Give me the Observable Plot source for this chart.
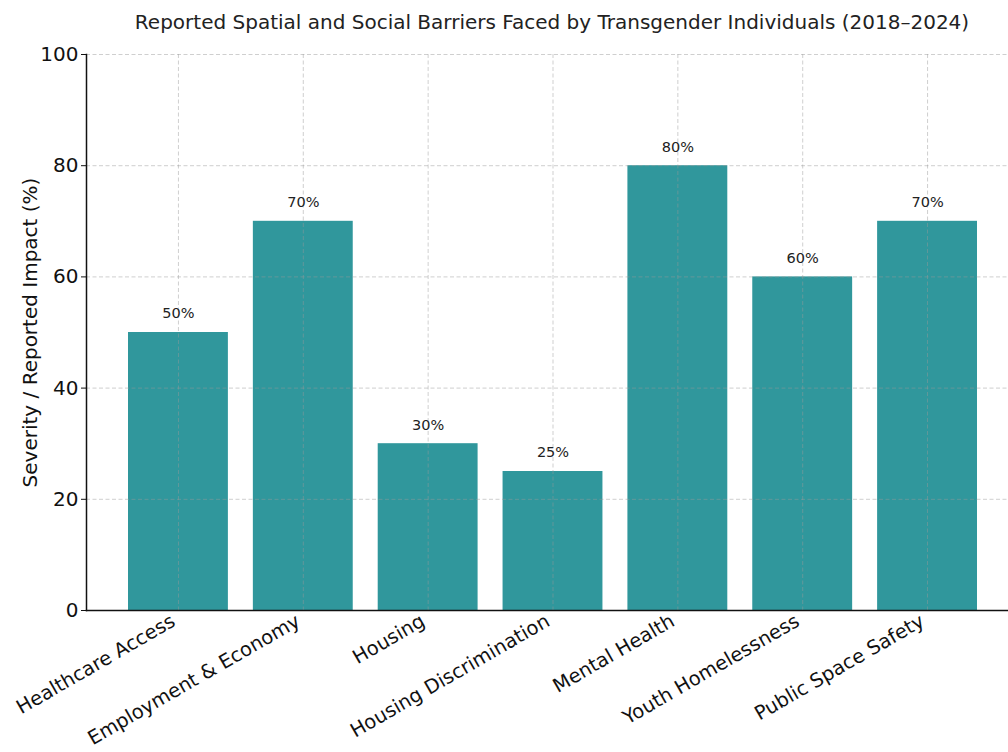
<!DOCTYPE html>
<html>
<head>
<meta charset="utf-8">
<script src="https://cdn.jsdelivr.net/npm/d3@7"></script>
<script src="https://cdn.jsdelivr.net/npm/@observablehq/plot@0.6"></script>
<style>
  html, body { margin: 0; padding: 0; background: #fff; }
  #wrap { width: 1008px; height: 752px; position: relative; overflow: hidden; font-family: "DejaVu Sans", sans-serif; }
  #title { position: absolute; left: 0; top: 0; width: 1008px; height: 44px; line-height: 44px; padding-left: 96px; box-sizing: border-box; text-align: center; font-size: 20px; color: #222; white-space: nowrap; z-index: 2; }
  #chart { position: absolute; left: 0; top: 34px; }
</style>
</head>
<body>
<div id="wrap">
  <div id="title">Reported Spatial and Social Barriers Faced by Transgender Individuals (2018–2024)</div>
  <div id="chart"></div>
</div>
<script>
const categories = ["Healthcare Access", "Employment & Economy", "Housing", "Housing Discrimination", "Mental Health", "Youth Homelessness", "Public Space Safety"];
const values = [50, 70, 30, 25, 80, 60, 70];
const yTicks = [0, 20, 40, 60, 80, 100];
const yLabel = "Severity / Reported Impact (%)";

const data = categories.map((c, i) => ({category: c, value: values[i]}));

const chart = Plot.plot({
  width: 1008,
  height: 718,
  marginTop: 20,
  marginLeft: 86,
  marginRight: 0,
  marginBottom: 142,
  style: {fontFamily: "DejaVu Sans, sans-serif", background: "white", color: "#111"},
  x: {domain: categories, range: [128, 977], paddingInner: 0.2, paddingOuter: 0, round: false, label: null},
  y: {domain: [0, 100], label: null},
  marks: [
    Plot.barY(data, {x: "category", y: "value", fill: "#30979c"}),
    Plot.gridY(yTicks, {stroke: "#999", strokeOpacity: 0.6, strokeDasharray: "4,2.5", strokeWidth: 0.8}),
    Plot.gridX(categories, {stroke: "#999", strokeOpacity: 0.6, strokeDasharray: "4,2.5", strokeWidth: 0.8}),
    Plot.axisY(yTicks, {tickSize: 5, tickPadding: 3, fontSize: 20, label: yLabel, labelAnchor: "center", labelArrow: "none", labelOffset: 64, stroke: "#111"}),
    Plot.axisX({tickSize: 0, tickPadding: 9, dx: -5, tickRotate: -30, fontSize: 19.5, label: null}),
    Plot.frame({anchor: "left", stroke: "#111", strokeWidth: 1.5}),
    Plot.frame({anchor: "bottom", stroke: "#111", strokeWidth: 1.5}),
    Plot.text(data, {x: "category", y: d => d.value + 2, dy: -3, text: d => d.value + "%", lineAnchor: "bottom", fontSize: 14.5, fill: "#222"})
  ]
});
document.getElementById("chart").appendChild(chart);
</script>
</body>
</html>
